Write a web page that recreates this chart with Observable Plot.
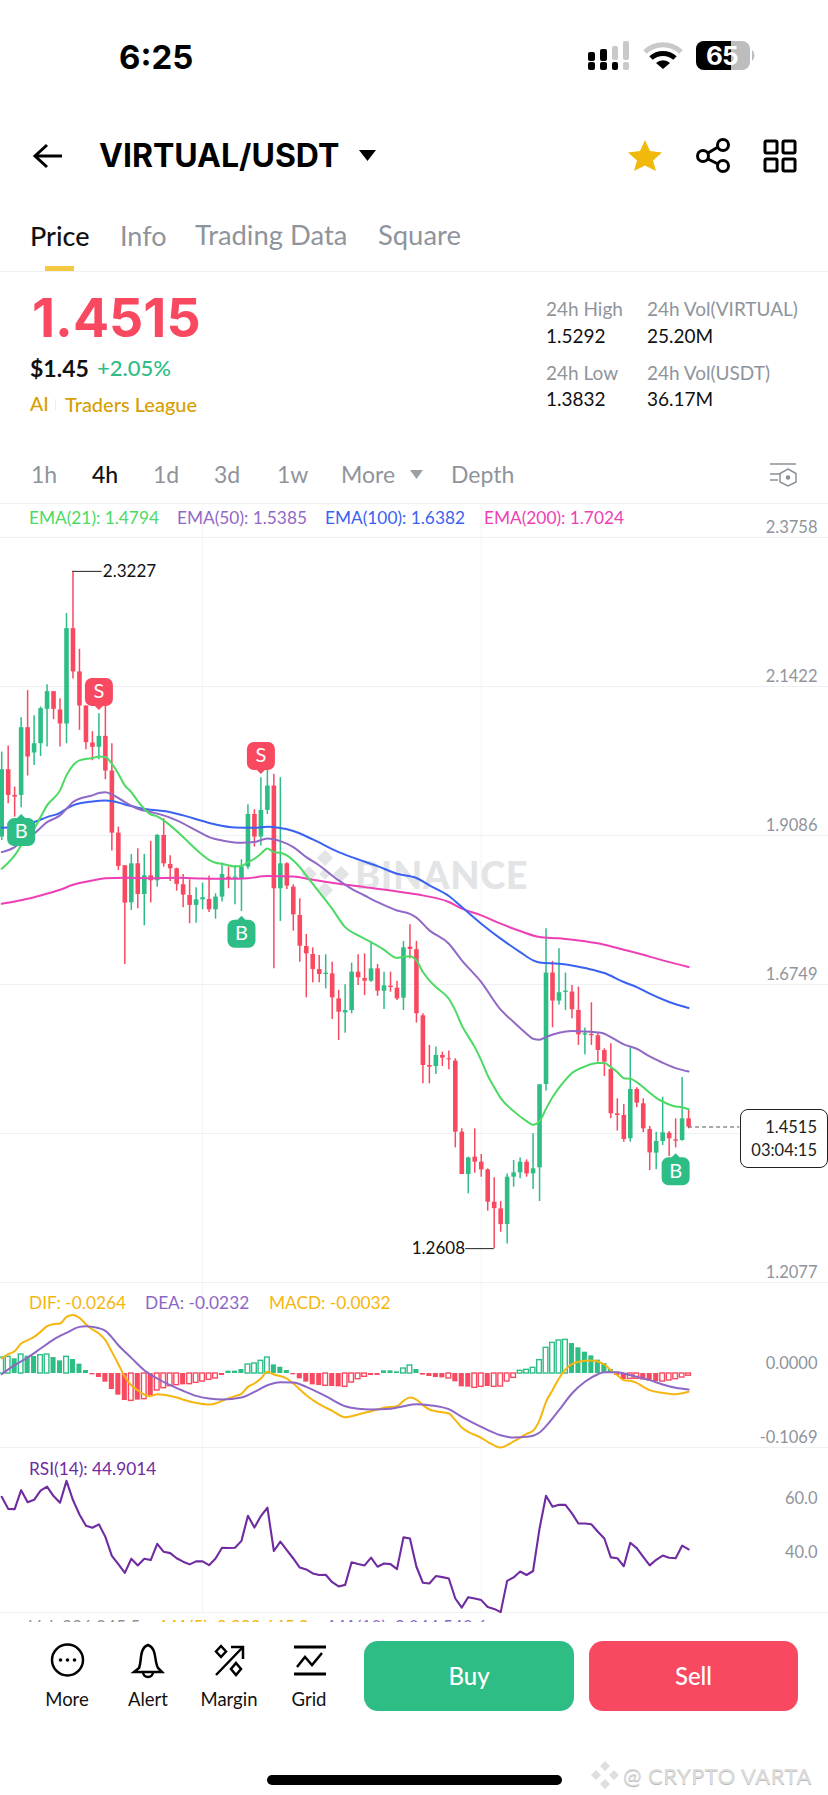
<!DOCTYPE html>
<html><head><meta charset="utf-8">
<script src="https://cdn.jsdelivr.net/npm/d3@7"></script>
<script src="https://cdn.jsdelivr.net/npm/@observablehq/plot@0.6"></script>
<style>
html,body{margin:0;padding:0;background:#fff;}
#page{position:relative;width:828px;height:1795px;overflow:hidden;background:#fff;font-family:Lato,"Open Sans",sans-serif;}
.t{position:absolute;white-space:nowrap;transform:translateY(-50%);line-height:1;}
.hl{position:absolute;left:0;width:828px;height:1px;background:#eef0f2;}
.panel{position:absolute;left:0;width:828px;}
.panel svg{display:block;overflow:visible;background:transparent;}
.art{position:absolute;left:0;top:0;}
</style></head><body><div id="page">
<svg class="art" id="wm" width="828" height="1795" style="z-index:0">
  <g fill="#e3e4e6" transform="translate(325 874)">
    <path d="M0,-21 L7,-14 L0,-7 L-7,-14Z M-14,-7 L-7,0 L-14,7 L-21,0Z M14,-7 L21,0 L14,7 L7,0Z M0,7 L7,14 L0,21 L-7,14Z M0,-5 L5,0 L0,5 L-5,0Z" transform="scale(1.15)"/>
  </g>
</svg>
<svg class="art" width="828" height="1795" style="z-index:6;pointer-events:none">
  <!-- status bar -->
  <g fill="#000"><rect x="588" y="52" width="7" height="9" rx="2"/><rect x="588" y="62" width="7" height="8" rx="2"/><rect x="600" y="49" width="7" height="12" rx="2"/><rect x="600" y="62" width="7" height="8" rx="2"/><rect x="612" y="62" width="6" height="8" rx="2"/></g>
  <g fill="#c9c9c9"><rect x="612" y="46" width="6" height="14" rx="2"/><rect x="623" y="41" width="6" height="19" rx="2"/><rect x="623" y="62" width="6" height="8" rx="2"/></g>
  <path d="M645,52 A26,26 0 0 1 681,52" fill="none" stroke="#c9c9c9" stroke-width="5"/>
  <path d="M651,58 A18,18 0 0 1 675,58" fill="none" stroke="#000" stroke-width="5"/>
  <path d="M656,63 L663,69 L670,63 A10,10 0 0 0 656,63Z" fill="#000"/>
  <rect x="696" y="41" width="54" height="29" rx="8" fill="#bdbdbd"/><path d="M704,41 H731 V70 H704 A8,8 0 0 1 696,62 V49 A8,8 0 0 1 704,41Z" fill="#000"/>
  <path d="M752,50 a4,6 0 0 1 0,11Z" fill="#bdbdbd"/>
  <!-- back -->
  <path d="M62,156 H36 M47,145 L35,156 L47,167" fill="none" stroke="#000" stroke-width="3"/>
  <path d="M359,150 H376 L367.500,161Z" fill="#000"/>
  <path d="M645,140 L650,151 L662,152.500 L653,160.500 L656,171 L645,165.500 L634,171 L637,160.500 L628,152.500 L640,151Z" fill="#f0b90b"/>
  <g fill="none" stroke="#000" stroke-width="3"><circle cx="703" cy="156" r="5.500"/><circle cx="723" cy="145" r="5.500"/><circle cx="723" cy="166" r="5.500"/><path d="M708,153 L718,147 M708,159 L718,164"/>
  <rect x="765" y="141" width="12" height="12" rx="1.500"/><rect x="783" y="141" width="12" height="12" rx="1.500"/><rect x="765" y="159" width="12" height="12" rx="1.500"/><rect x="783" y="159" width="12" height="12" rx="1.500"/></g>
  <rect x="45" y="266" width="29" height="5" fill="#f5c93f"/>
  <rect x="55" y="399" width="1" height="11" fill="#eee"/>
  <path d="M410,470 H423 L416.500,479Z" fill="#9aa0a8"/>
  <g fill="none" stroke="#8a9099" stroke-width="1.500"><path d="M770,464 H796 M770,474 H781 M770,480 H778"/><path d="M788,469 L796,473.500 V482 L788,486 L780,482 V473.500Z"/><circle cx="788" cy="477.500" r="1.500" fill="#8a9099"/></g>
  <!-- bottom icons -->
  <g fill="none" stroke="#000" stroke-width="2.500"><circle cx="67.500" cy="1660" r="15.500"/>
  <path d="M139,1668 C142,1661 139,1648 148,1645 C157,1648 154,1661 158,1668 L162,1672 H134Z M143,1672 A5,5 0 0 0 153,1672"/>
  <path d="M216,1675 L243,1647 M231,1647 H243 V1659"/><path d="M221,1646 L226,1651.500 L221,1657 L216,1651.500Z M236,1663 L241,1669 L236,1675 L231,1669Z"/>
  <path d="M294,1647 H326 M294,1674 H326" stroke-width="3"/><path d="M297,1667 L305,1657 L312,1665 L322,1653"/></g>
  <g fill="#000"><circle cx="60.500" cy="1660" r="1.800"/><circle cx="67.500" cy="1660" r="1.800"/><circle cx="74.500" cy="1660" r="1.800"/></g>
  <rect x="364" y="1641" width="210" height="70" rx="14" fill="#2ebd85"/>
  <rect x="589" y="1641" width="209" height="70" rx="14" fill="#f84960"/>
  <rect x="267" y="1775" width="295" height="10" rx="5" fill="#000"/>
  <g fill="#dedede" transform="translate(605 1775)"><path d="M0,-14 L5,-9 L0,-4 L-5,-9Z M-9,-5 L-4,0 L-9,5 L-14,0Z M9,-5 L14,0 L9,5 L4,0Z M0,4 L5,9 L0,14 L-5,9Z"/></g>
</svg>
<div class="hl" style="top:271px"></div>
<div class="hl" style="top:503px"></div>
</div>
<script>
// ---------- candles (price) ----------
const open_ = [1.9061,2.0117,1.9714,1.9714,2.0776,2.0379,2.0525,2.1064,2.1341,2.1053,2.0834,2.2329,2.1650,2.1116,2.0536,2.0468,2.0640,2.0096,1.9123,1.8611,1.8030,1.8642,1.8161,1.8454,1.8376,1.9087,1.8632,1.8564,1.8313,1.8145,1.7989,1.8077,1.8083,1.7921,1.8119,1.8433,1.8412,1.8407,1.8590,1.9416,1.9061,1.9479,1.9861,1.8250,1.8642,1.8276,1.7832,1.7345,1.7220,1.6984,1.6906,1.6916,1.6524,1.6304,1.6341,1.6943,1.6843,1.6801,1.6995,1.6644,1.6723,1.6692,1.6535,1.7335,1.7295,1.6259,1.5480,1.5464,1.5637,1.5585,1.5548,1.4434,1.3770,1.4042,1.3963,1.3843,1.3336,1.3231,1.2985,1.3728,1.3796,1.3963,1.3780,1.3875,1.5182,1.6929,1.6490,1.6626,1.6631,1.6343,1.5956,1.5967,1.5946,1.5715,1.5417,1.4722,1.4696,1.4330,1.5104,1.4879,1.4476,1.4105,1.4288,1.4418,1.4314,1.4303,1.4643];
const close_ = [2.0117,1.9714,1.9688,2.0776,2.0316,2.0525,2.1074,2.1341,2.1064,2.0834,2.2329,2.1650,2.1116,2.0541,2.0468,2.0640,2.0096,1.9123,1.8600,1.8025,1.8642,1.8161,1.8454,1.8376,1.9087,1.8642,1.8564,1.8318,1.8151,1.7989,1.8077,1.8109,1.7921,1.8119,1.8475,1.8402,1.8433,1.8590,1.9416,1.9061,1.9479,1.9861,1.8250,1.8642,1.8292,1.7842,1.7350,1.7230,1.6984,1.6906,1.6927,1.6540,1.6315,1.6341,1.6943,1.6854,1.6801,1.6995,1.6644,1.6728,1.6702,1.6524,1.7324,1.7298,1.6291,1.5480,1.5454,1.5637,1.5595,1.5569,1.4434,1.3770,1.4031,1.3963,1.3843,1.3336,1.3236,1.2985,1.3728,1.3796,1.3963,1.3780,1.3859,1.5177,1.6929,1.6490,1.6620,1.6646,1.6354,1.5961,1.5977,1.5946,1.5715,1.5532,1.4722,1.4696,1.4319,1.5104,1.4889,1.4486,1.4110,1.4288,1.4424,1.4330,1.4293,1.4643,1.4515];
const high_ = [2.0394,2.0488,1.9845,2.0933,2.1357,2.0964,2.1100,2.1451,2.1341,2.1231,2.2565,2.3227,2.2005,2.1116,2.0713,2.0996,2.1153,2.0525,1.9218,1.8611,1.8789,1.8878,1.8789,1.8993,1.9103,1.9348,1.8768,1.8574,1.8475,1.8391,1.8266,1.8339,1.8449,1.8172,1.8653,1.8590,1.8616,1.8705,1.9568,1.9490,1.9992,2.0133,2.0044,1.9992,1.8658,1.8313,1.8093,1.7534,1.7324,1.7204,1.7215,1.7099,1.6655,1.6744,1.7084,1.7215,1.7230,1.7398,1.7063,1.6943,1.6943,1.6801,1.7424,1.7685,1.7426,1.6291,1.5794,1.5768,1.5689,1.5705,1.5585,1.4486,1.4042,1.4486,1.4084,1.3859,1.3718,1.3346,1.3780,1.3990,1.4031,1.4000,1.4408,1.5177,1.7624,1.7112,1.7311,1.6929,1.6735,1.6709,1.6066,1.6463,1.5977,1.5742,1.5820,1.4957,1.4868,1.5757,1.5130,1.4957,1.4523,1.4434,1.4983,1.4445,1.4643,1.5292,1.4785];
const low_ = [1.9008,1.9584,1.9374,1.9521,2.0018,2.0185,2.0326,2.0473,2.0902,2.0473,2.0525,2.1540,2.0734,2.0431,2.0258,2.0274,1.9960,1.8841,1.8538,1.7063,1.7910,1.7936,1.7670,1.8030,1.8276,1.8590,1.8365,1.8213,1.7952,1.7701,1.7711,1.7921,1.7879,1.7774,1.8041,1.8250,1.7999,1.7894,1.8553,1.8904,1.8919,1.9416,1.6995,1.7738,1.8240,1.7586,1.7099,1.6540,1.6775,1.6775,1.6681,1.6200,1.5870,1.5985,1.6289,1.6733,1.6576,1.6786,1.6566,1.6357,1.6629,1.6498,1.6341,1.7152,1.6144,1.5192,1.5192,1.5339,1.5464,1.5412,1.4188,1.3770,1.3467,1.3791,1.3728,1.3195,1.2608,1.2865,1.2682,1.3571,1.3702,1.3728,1.3535,1.3346,1.5077,1.6071,1.6427,1.6343,1.6212,1.5794,1.5648,1.5794,1.5532,1.5308,1.4643,1.4450,1.4277,1.4277,1.4816,1.4424,1.3833,1.3843,1.4225,1.4052,1.4188,1.4293,1.4486];
// ---------- EMA lines: candle index / value ----------
const ema21Idx = [0,2,3,5,6,7,9,10,11,12,14,15,16,17,18,19,20,21,22,23,24,25,26,28,30,32,33,34,36,37,38,39,40,41,42,43,44,45,46,47,49,51,53,55,57,59,61,62,63,64,65,66,67,69,70,71,73,74,75,76,77,79,81,82,83,84,85,86,87,88,90,92,93,94,95,96,97,98,99,100,101,102,103,104,105,106];
const ema21 = [1.8564,1.8773,1.8930,1.9191,1.9374,1.9558,1.9793,2.0028,2.0185,2.0264,2.0300,2.0326,2.0316,2.0211,2.0054,1.9871,1.9767,1.9626,1.9505,1.9416,1.9385,1.9322,1.9244,1.9061,1.8867,1.8705,1.8658,1.8642,1.8600,1.8606,1.8668,1.8721,1.8799,1.8883,1.8825,1.8815,1.8773,1.8695,1.8590,1.8459,1.8198,1.7936,1.7649,1.7518,1.7413,1.7293,1.7167,1.7183,1.7194,1.7128,1.6945,1.6814,1.6709,1.6526,1.6343,1.6108,1.5768,1.5559,1.5323,1.5140,1.4968,1.4764,1.4607,1.4549,1.4607,1.4800,1.4983,1.5130,1.5255,1.5360,1.5464,1.5517,1.5517,1.5454,1.5376,1.5281,1.5271,1.5219,1.5140,1.5051,1.4973,1.4915,1.4868,1.4837,1.4826,1.4794];
const ema50Idx = [0,2,3,5,7,9,10,11,12,14,15,16,17,19,21,23,25,27,30,32,34,37,39,41,43,45,47,49,52,54,56,58,61,63,64,66,69,71,74,77,79,81,82,83,84,86,88,90,92,93,94,96,98,100,102,104,106];
const ema50 = [1.8825,1.8904,1.8982,1.9113,1.9296,1.9401,1.9505,1.9610,1.9662,1.9714,1.9751,1.9762,1.9730,1.9610,1.9505,1.9453,1.9401,1.9322,1.9165,1.9061,1.9008,1.8972,1.8982,1.9040,1.8998,1.8904,1.8747,1.8616,1.8381,1.8250,1.8145,1.8041,1.7910,1.7858,1.7797,1.7598,1.7389,1.7128,1.6788,1.6354,1.6160,1.5977,1.5899,1.5883,1.5925,1.5993,1.6019,1.6014,1.5998,1.5977,1.5925,1.5810,1.5742,1.5621,1.5522,1.5438,1.5385];
const ema100Idx = [0,2,3,5,7,9,10,11,14,16,17,19,21,23,25,28,31,33,36,39,41,43,45,48,52,54,58,61,64,66,69,71,74,77,80,82,83,86,88,90,93,96,98,100,103,106];
const ema100 = [1.9207,1.9218,1.9244,1.9296,1.9374,1.9442,1.9505,1.9558,1.9620,1.9636,1.9626,1.9573,1.9521,1.9490,1.9469,1.9401,1.9312,1.9259,1.9212,1.9207,1.9223,1.9202,1.9155,1.9024,1.8825,1.8747,1.8606,1.8485,1.8419,1.8304,1.8137,1.7964,1.7703,1.7468,1.7258,1.7128,1.7096,1.7075,1.7049,1.7007,1.6929,1.6788,1.6709,1.6605,1.6474,1.6382];
const ema200Idx = [0,2,4,6,9,11,14,16,19,23,27,31,35,38,41,45,48,52,56,60,64,69,71,74,77,80,83,86,90,93,96,98,102,106];
const ema200 = [1.8015,1.8051,1.8093,1.8145,1.8234,1.8313,1.8381,1.8417,1.8423,1.8417,1.8423,1.8412,1.8407,1.8417,1.8449,1.8444,1.8391,1.8328,1.8276,1.8224,1.8163,1.8043,1.7938,1.7834,1.7703,1.7588,1.7494,1.7473,1.7426,1.7373,1.7295,1.7243,1.7128,1.7024];
// ---------- MACD ----------
const hist = [.0231,.0241,.0212,.0274,.0250,.0246,.0265,.0274,.0231,.0183,.0241,.0202,.0135,.0043,-.0019,-.0058,-.0125,-.0231,-.0313,-.0390,-.0395,-.0385,-.0371,-.0318,-.0246,-.0212,-.0183,-.0169,-.0164,-.0154,-.0135,-.0116,-.0091,-.0072,-.0029,.0034,.0034,.0058,.0130,.0144,.0183,.0231,.0125,.0091,.0043,-.0019,-.0077,-.0125,-.0164,-.0173,-.0178,-.0188,-.0193,-.0193,-.0130,-.0082,-.0048,-.0029,-.0029,.0039,.0039,.0024,.0072,.0116,.0058,-.0024,-.0043,-.0058,-.0063,-.0072,-.0120,-.0193,-.0197,-.0207,-.0193,-.0188,-.0193,-.0188,-.0116,-.0063,.0039,.0053,.0082,.0193,.0371,.0443,.0477,.0486,.0433,.0371,.0308,.0255,.0193,.0144,.0058,-.0029,-.0087,-.0077,-.0077,-.0096,-.0111,-.0120,-.0116,-.0101,-.0082,-.0058,-.0032];
const histHollow = [0,1,3,6,7,10,20,22,24,25,26,27,29,30,31,32,33,38,39,40,41,50,53,54,55,56,62,63,69,73,74,76,77,78,79,80,81,82,83,84,85,86,87,97,98,102,103,104,105,106];
const difIdx = [0,1,2,3,4,5,6,7,8,9,10,11,12,13,14,15,16,17,18,19,20,21,22,23,24,25,27,29,30,32,33,34,36,37,38,39,40,41,42,44,45,47,49,51,53,55,57,58,59,61,62,63,64,65,66,67,69,70,71,72,74,75,77,79,81,82,83,84,85,86,87,88,90,91,92,93,94,95,96,97,98,99,100,102,104,106];
const dif = [.0217,.0279,.0323,.0433,.0482,.0530,.0602,.0684,.0713,.0722,.0819,.0847,.0804,.0713,.0636,.0578,.0482,.0313,.0135,-.0048,-.0169,-.0241,-.0303,-.0327,-.0299,-.0308,-.0347,-.0404,-.0424,-.0448,-.0433,-.0395,-.0327,-.0294,-.0193,-.0144,-.0072,.0024,-.0014,-.0072,-.0144,-.0313,-.0443,-.0539,-.0631,-.0592,-.0544,-.0520,-.0496,-.0472,-.0395,-.0347,-.0376,-.0457,-.0520,-.0544,-.0578,-.0674,-.0780,-.0843,-.0929,-.0987,-.1069,-.0982,-.0872,-.0828,-.0674,-.0409,-.0241,-.0072,.0058,.0135,.0183,.0188,.0173,.0130,.0048,-.0024,-.0096,-.0106,-.0135,-.0193,-.0241,-.0279,-.0299,-.0264];
const deaIdx = [0,2,4,6,8,10,12,13,14,16,18,20,22,24,26,28,30,32,34,37,39,41,43,45,47,50,53,55,57,60,62,64,66,69,71,74,77,79,81,82,83,84,86,88,90,92,93,95,97,100,102,104,106];
const dea = [-.0010,.0120,.0231,.0361,.0491,.0587,.0674,.0684,.0674,.0616,.0409,.0226,.0048,-.0072,-.0169,-.0250,-.0323,-.0361,-.0376,-.0347,-.0265,-.0169,-.0125,-.0130,-.0193,-.0327,-.0472,-.0510,-.0520,-.0510,-.0472,-.0443,-.0457,-.0515,-.0626,-.0770,-.0891,-.0924,-.0915,-.0900,-.0852,-.0761,-.0530,-.0289,-.0120,-.0010,.0019,.0019,-.0024,-.0096,-.0159,-.0207,-.0232];
// ---------- RSI ----------
const rsi = [64.6,60.1,60.0,67.1,62.6,63.5,66.9,68.4,64.9,62.4,70.6,63.4,58.0,53.8,53.0,54.3,49.6,42.5,39.4,36.1,41.4,38.9,41.4,40.9,47.0,44.0,43.5,41.6,40.3,39.3,40.4,40.4,39.0,41.5,45.5,45.4,45.5,48.1,57.5,53.1,57.4,60.6,44.3,47.8,44.6,41.5,38.1,37.4,35.9,35.3,35.4,32.6,31.0,31.6,40.1,39.4,38.9,41.8,38.4,39.6,39.4,37.5,49.4,49.0,38.4,32.4,32.1,34.9,34.5,34.0,26.5,23.1,27.0,26.5,25.9,23.3,22.6,21.4,33.1,34.4,36.6,35.3,36.8,52.8,65.0,60.9,61.6,61.6,58.4,54.6,54.6,54.3,51.5,49.0,41.9,41.6,38.6,47.4,45.4,42.1,38.9,41.0,42.6,41.8,41.6,46.3,44.9014];
// ---------- axes / signals ----------
const priceGrid = [2.3758,2.1422,1.9086,1.6749,1.4413,1.2077];
const priceTicks = [2.3758,2.1422,1.9086,1.6749,1.2077];
const macdTicks = [0,-0.1069];
const rsiTicks = [60,40];
const timeGrid = [31,74];
const sellIdx = [15,40], sellPrice = [2.1336,2.0332];
const buyIdx = [3,37,104], buyPrice = [1.9139,1.7544,1.3822];
const lastIdx = 106, lastPrice = 1.4515, hiIdx = 11, hiPrice = 2.3227, loIdx = 76, loPrice = 1.2608;

const GREEN="#2ebd85", RED="#f84960", GRAY="#8f949c", GRID="#eef0f2", VGRID="#f3f4f6";
const C21="#4cd964",C50="#9169c6",C100="#3a62f0",C200="#ee3fb4",YEL="#f4b60f",PUR="#8d67c6",RSIC="#6f2ba0";
const FONT='Lato,"Open Sans",sans-serif';
const xDom=[-0.185,127.59];
const idx=d3.range(open_.length);
const series=(ix,v)=>ix.map((i,k)=>({i,v:v[k]}));

function base(h,yDom){return {width:828,height:h,margin:0,marginTop:0,marginRight:0,marginBottom:0,marginLeft:0,
  x:{domain:xDom,axis:null},y:{domain:yDom,axis:null},style:{fontFamily:FONT,background:"transparent",overflow:"visible"}};}
function place(svg,top){const d=document.createElement("div");d.className="panel";d.style.top=top+"px";d.style.zIndex=2;d.appendChild(svg);document.getElementById("page").appendChild(d);}
const yAxis=(ticks,fmt)=>Plot.axisY(ticks,{anchor:"right",tickSize:0,tickPadding:0,textAnchor:"end",dx:-11,dy:-10,fontSize:16.5,fill:GRAY,tickFormat:fmt,label:null});

// rounded badge with a small tip
const badge=dir=>({draw(c,size){const r=Math.sqrt(size/Math.PI),k=7;
  c.moveTo(-r+k,-r);
  if(dir<0){c.lineTo(-4,-r);c.lineTo(0,-r-4);c.lineTo(4,-r);}
  c.lineTo(r-k,-r);c.arcTo(r,-r,r,-r+k,k);c.lineTo(r,r-k);c.arcTo(r,r,r-k,r,k);
  if(dir>0){c.lineTo(4,r);c.lineTo(0,r+4);c.lineTo(-4,r);}
  c.lineTo(-r+k,r);c.arcTo(-r,r,-r,r-k,k);c.lineTo(-r,-r+k);c.arcTo(-r,-r,-r+k,-r,k);c.closePath();}});
const col=i=>close_[i]>=open_[i]?GREEN:RED;
const lineOpt=(c,w=2,curve="monotone-x")=>({x:"i",y:"v",stroke:c,strokeWidth:w,curve});
const sells=series(sellIdx,sellPrice), buys=series(buyIdx,buyPrice);

place(Plot.plot({...base(779,[1.2077,2.4291]),marks:[
  Plot.ruleY(priceGrid,{stroke:GRID,strokeWidth:1}),
  Plot.ruleX(timeGrid,{stroke:VGRID,strokeWidth:1}),
  yAxis(priceTicks,d=>d.toFixed(4)),
  Plot.ruleX(idx,{x:d=>d,y1:i=>low_[i],y2:i=>high_[i],stroke:col,strokeWidth:1.5}),
  Plot.ruleX(idx,{x:d=>d,y1:i=>open_[i],y2:i=>close_[i],stroke:col,strokeWidth:4.6}),
  Plot.line(series(ema200Idx,ema200),lineOpt(C200)),
  Plot.line(series(ema100Idx,ema100),lineOpt(C100)),
  Plot.line(series(ema50Idx,ema50),lineOpt(C50)),
  Plot.line(series(ema21Idx,ema21),lineOpt(C21)),
  Plot.dot(sells,{x:"i",y:"v",r:14,symbol:badge(1),fill:RED,stroke:null}),
  Plot.dot(buys,{x:"i",y:"v",r:14,symbol:badge(-1),fill:GREEN,stroke:null}),
  Plot.text(sells,{x:"i",y:"v",text:()=>"S",fill:"#fff",fontSize:20}),
  Plot.text(buys,{x:"i",y:"v",text:()=>"B",fill:"#fff",fontSize:20}),
  Plot.ruleY([hiPrice],{x1:hiIdx,x2:hiIdx+4.5,stroke:"#222",strokeWidth:1}),
  Plot.ruleY([loPrice],{x1:loIdx-4.4,x2:loIdx,stroke:"#222",strokeWidth:1}),
  Plot.text([hiPrice],{x:hiIdx+4.6,y:d=>d,text:d=>d.toFixed(4),textAnchor:"start",fill:"#111",fontSize:17}),
  Plot.text([loPrice],{x:loIdx-4.5,y:d=>d,text:d=>d.toFixed(4),textAnchor:"end",fill:"#111",fontSize:17}),
  Plot.ruleY([lastPrice],{x1:lastIdx,x2:lastIdx+7.9,stroke:"#555",strokeWidth:1,strokeDasharray:"4,3"})
]}),503.3);

place(Plot.plot({...base(165,[-0.1069,0.1315]),marks:[
  Plot.ruleY([-0.1069],{stroke:GRID}),
  Plot.ruleX(timeGrid,{stroke:VGRID}),
  yAxis(macdTicks,d=>d===0?"0.0000":d.toFixed(4)),
  Plot.rect(idx.filter(i=>!histHollow.includes(i)),{x1:i=>i-.39,x2:i=>i+.39,y1:()=>0,y2:i=>hist[i],fill:i=>hist[i]>=0?GREEN:RED}),
  Plot.rect(histHollow,{x1:i=>i-.36,x2:i=>i+.36,y1:()=>0,y2:i=>hist[i],fill:"#fff",stroke:i=>hist[i]>=0?GREEN:RED,strokeWidth:1.4}),
  Plot.line(series(difIdx,dif),lineOpt(YEL)),
  Plot.line(series(deaIdx,dea),lineOpt(PUR))
]}),1282.3);

place(Plot.plot({...base(165,[21.25,83.1]),marks:[
  Plot.ruleY([21.25],{stroke:GRID}),
  Plot.ruleX(timeGrid,{stroke:VGRID}),
  yAxis(rsiTicks,d=>d.toFixed(1)),
  Plot.line(rsi.map((v,i)=>({i,v})),lineOpt(RSIC,2.1,"linear"))
]}),1447.3);

// ---------- page text ----------
const page=document.getElementById("page");
function T(s,x,y,size,color,weight=400,anchor="start",extra=""){const e=document.createElement("div");e.className="t";e.textContent=s;
  e.style.cssText=`top:${y}px;font-size:${size}px;color:${color};font-weight:${weight};z-index:7;`+(anchor==="end"?`right:${828-x}px;`:anchor==="middle"?`left:${x}px;transform:translate(-50%,-50%);`:`left:${x}px;`)+extra;page.appendChild(e);return e;}
const K="#111",G2="#8f949c";
T("BINANCE",355,874,38,"#e3e4e6",900,"start","z-index:1;letter-spacing:0.6px;");
T("6:25",119,57,33,"#000",700,"start",'font-family:Inter;');
T("65",706,56,26,"#fff",700,"start",'font-family:Inter;z-index:8;letter-spacing:-1px;');
T("VIRTUAL/USDT",99,156,32,"#000",700,"start",'font-family:Inter;letter-spacing:0;');
T("Price",30,235,27,K,500);T("Info",120,235,27,G2);T("Trading Data",195,235,27.4,G2);T("Square",378,235,27.4,G2);
T("1.4515",32,318,53.5,RED,700,"start",'font-family:Inter;');
T("$1.45",30,368,23,K,700);T("+2.05%",97,368,22,GREEN,500);
T("AI",30,404,19.5,"#d79f06",500);T("Traders League",65,404,20,"#d79f06",500);
T("24h High",546,308,19,G2);T("24h Vol(VIRTUAL)",647,308,19,G2);T("1.5292",546,335,19,K);T("25.20M",647,335,19,K);
T("24h Low",546,372,19,G2);T("24h Vol(USDT)",647,372,19,G2);T("1.3832",546,398,19,K);T("36.17M",647,398,19,K);
[["1h",31],["4h",92],["1d",153],["3d",214],["1w",277],["More",341],["Depth",451]].forEach(([s,x])=>T(s,x,473.5,23,s==="4h"?K:G2,s==="4h"?500:400));
T("EMA(21): 1.4794",29,518,17.3,C21);T("EMA(50): 1.5385",177,518,17.3,C50);T("EMA(100): 1.6382",325,518,17.3,C100);T("EMA(200): 1.7024",484,518,17.3,C200);
T("DIF: -0.0264",29,1303,17.3,YEL);T("DEA: -0.0232",145,1303,17.3,PUR);T("MACD: -0.0032",269,1303,17.3,YEL);
T("RSI(14): 44.9014",29,1469,17.3,RSIC);
T("Vol: 936,845.5",29,1627,17.3,"#8f949c","400","start","z-index:3;");T("MA(5): 2,988,645.8",161,1627,17.3,YEL,"400","start","z-index:3;");T("MA(10): 3,044,540.6",329,1627,17.3,PUR,"400","start","z-index:3;");
const cover=document.createElement("div");cover.style.cssText="position:absolute;left:0;top:1622px;width:828px;height:173px;background:#fff;z-index:4;";page.appendChild(cover);
const box=document.createElement("div");box.style.cssText="position:absolute;left:739.5px;top:1109px;width:86px;height:57px;border:1px solid #222;border-radius:8px;background:#fff;z-index:5;";page.appendChild(box);
T("1.4515",817,1127,16.5,"#222",400,"end");T("03:04:15",817,1150,16.5,"#222",400,"end");
[["More",67],["Alert",148],["Margin",229],["Grid",309]].forEach(([s,x])=>T(s,x,1699,18.5,"#111",400,"middle"));
T("Buy",469,1676,24,"#fff",500,"middle");T("Sell",693.5,1676,24,"#fff",500,"middle");
T("@ CRYPTO VARTA",623,1776,22,"#dcdcdc",400,"start","text-shadow:0 1px 0 #bbb;letter-spacing:.5px;");
</script></body></html>
